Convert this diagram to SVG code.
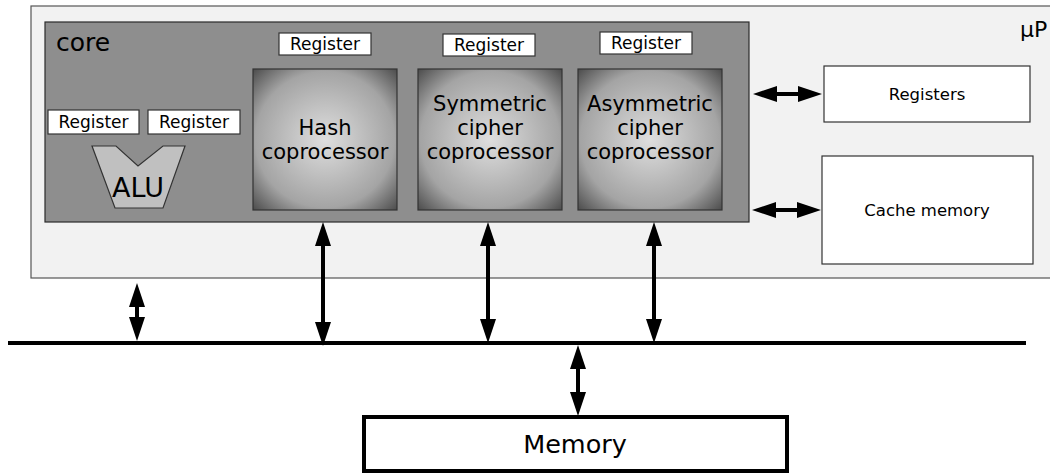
<svg xmlns="http://www.w3.org/2000/svg" width="1050" height="475" viewBox="0 0 1050 475">
<style>
text{font-family:"DejaVu Sans","Liberation Sans",sans-serif;fill:#000}
.reg{fill:#fff;stroke:#333;stroke-width:1.2}
.regt{font-size:17px;text-anchor:middle}
.cop{fill:url(#cg);stroke:#333;stroke-width:1.2}
.copt{font-size:21px;text-anchor:middle}
.box{fill:#fff;stroke:#333;stroke-width:1.2}
.boxt{font-size:16.5px;text-anchor:middle}
.arr{stroke:#000;stroke-width:4;fill:none;marker-start:url(#ah);marker-end:url(#ah)}
</style>
<defs>
<radialGradient id="cg" cx="50%" cy="50%" r="71%">
<stop offset="0" stop-color="#dedede"/>
<stop offset="0.68" stop-color="#a4a4a4"/>
<stop offset="1" stop-color="#4a4a4a"/>
</radialGradient>
<marker id="ah" viewBox="0 0 24 16" refX="2" refY="8" markerWidth="24" markerHeight="16" markerUnits="userSpaceOnUse" orient="auto-start-reverse">
<path d="M0,0 L24,8 L0,16 Z" fill="#000"/>
</marker>
</defs>
<g id="up">
<rect x="31" y="6" width="1030" height="272" fill="#f2f2f2" stroke="#555" stroke-width="1.2"/>
<text x="1020" y="37" font-size="22">µP</text>
</g>
<g id="core">
<rect x="45" y="22" width="704" height="200" fill="#8e8e8e" stroke="#2a2a2a" stroke-width="1.2"/>
<text x="56" y="51" font-size="25">core</text>
</g>
<g id="reg-alu-1"><rect class="reg" x="48" y="110" width="91" height="24"/><text class="regt" x="93.5" y="128">Register</text></g>
<g id="reg-alu-2"><rect class="reg" x="148" y="110" width="92" height="24"/><text class="regt" x="194" y="128">Register</text></g>
<g id="alu">
<path d="M92,146 L116,146 L138,166 L163,146 L185,146 L163,208 L115,208 Z" fill="#c0c0c0" stroke="#333" stroke-width="1.2"/>
<text x="138" y="197" font-size="27" text-anchor="middle">ALU</text>
</g>
<g id="reg-hash"><rect class="reg" x="279" y="33" width="92" height="22"/><text class="regt" x="325" y="50">Register</text></g>
<g id="reg-sym"><rect class="reg" x="443" y="34" width="92" height="22"/><text class="regt" x="489" y="51">Register</text></g>
<g id="reg-asym"><rect class="reg" x="600" y="32" width="92" height="22"/><text class="regt" x="646" y="49">Register</text></g>
<g id="hash">
<rect class="cop" x="253" y="69" width="144" height="141"/>
<text class="copt" x="325" y="135">Hash</text>
<text class="copt" x="325" y="159">coprocessor</text>
</g>
<g id="sym">
<rect class="cop" x="418" y="69" width="144" height="141"/>
<text class="copt" x="490" y="111">Symmetric</text>
<text class="copt" x="490" y="135">cipher</text>
<text class="copt" x="490" y="159">coprocessor</text>
</g>
<g id="asym">
<rect class="cop" x="578" y="69" width="144" height="141"/>
<text class="copt" x="650" y="111">Asymmetric</text>
<text class="copt" x="650" y="135">cipher</text>
<text class="copt" x="650" y="159">coprocessor</text>
</g>
<g id="registers">
<rect class="box" x="824" y="66" width="206" height="56"/>
<text class="boxt" x="927" y="100">Registers</text>
</g>
<g id="cache">
<rect class="box" x="822" y="156" width="211" height="108"/>
<text class="boxt" x="927" y="216">Cache memory</text>
</g>
<g id="memory">
<rect x="364" y="417" width="423" height="54" fill="#fff" stroke="#000" stroke-width="4"/>
<text x="575" y="453" font-size="25.5" text-anchor="middle">Memory</text>
</g>
<g id="connectors">
<line x1="8" y1="343" x2="1026" y2="343" stroke="#000" stroke-width="4"/>
<line class="arr" x1="775" y1="94" x2="800" y2="94"/>
<line class="arr" x1="774" y1="210" x2="799" y2="210"/>
<line class="arr" x1="137" y1="305" x2="137" y2="319"/>
<line class="arr" x1="323" y1="244" x2="323" y2="324"/>
<line class="arr" x1="488" y1="244" x2="488" y2="321"/>
<line class="arr" x1="654" y1="244" x2="654" y2="321"/>
<line class="arr" x1="578" y1="367" x2="578" y2="394"/>
</g>
</svg>
